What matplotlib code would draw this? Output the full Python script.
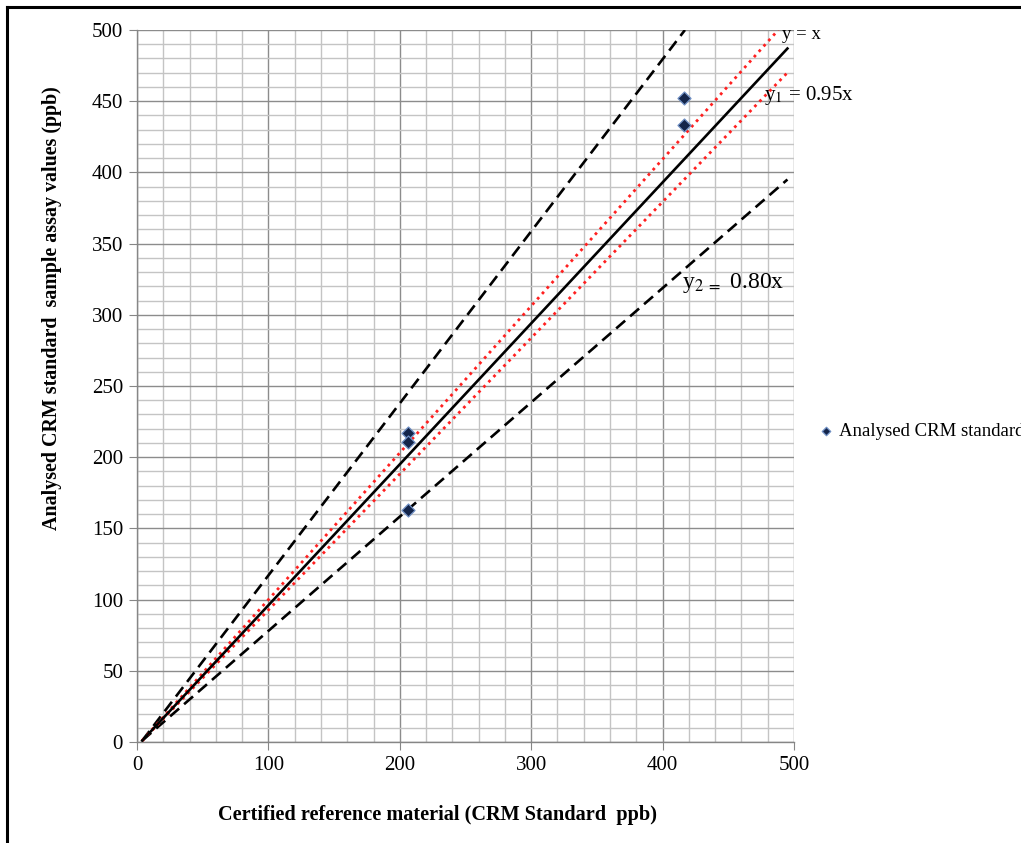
import matplotlib as mpl
import matplotlib.pyplot as plt
from matplotlib.lines import Line2D
from matplotlib.ticker import MultipleLocator

mpl.rcParams.update(
    {
        "font.family": ["Liberation Serif", "DejaVu Serif"],
        "mathtext.fontset": "stix",
        "font.size": 13,
    }
)

# analysed CRM standard samples (certified value, analysed value)
crm_x = [206, 206, 206, 416, 416]
crm_y = [217, 211, 163, 452, 433]

# reference lines, read as end points off the picture
line_yx_x = [4, 495]
line_yx_y = [1, 487]
red_hi_x = [4, 488]
red_hi_y = [1, 500]
red_lo_x = [4, 496]
red_lo_y = [1, 471]
dash_hi_x = [4, 417]
dash_hi_y = [1, 500]
dash_lo_x = [4, 495]
dash_lo_y = [1, 395]

W, H = 1021, 843
fig = plt.figure(figsize=(W / 100, H / 100), dpi=100)
ax = fig.add_axes([137 / W, 1 - 742 / H, (794 - 137) / W, (742 - 30) / H])

ax.set_xlim(0, 500)
ax.set_ylim(0, 500)
ax.xaxis.set_major_locator(MultipleLocator(100))
ax.xaxis.set_minor_locator(MultipleLocator(20))
ax.yaxis.set_major_locator(MultipleLocator(50))
ax.yaxis.set_minor_locator(MultipleLocator(10))
ax.grid(which="major", color="#8c8c8c", lw=1.0, zorder=0)
ax.grid(which="minor", color="#c4c4c4", lw=1.0, zorder=0)
ax.set_axisbelow(True)
for side in ["top", "right"]:
    ax.spines[side].set_visible(False)
for side in ["left", "bottom"]:
    ax.spines[side].set_color("#868686")
    ax.spines[side].set_linewidth(1.0)
ax.tick_params(which="major", direction="out", length=6, color="#868686", labelsize=15, pad=4)
ax.tick_params(which="minor", length=0)

ax.plot(dash_hi_x, dash_hi_y, color="black", lw=1.9, ls=(0, (4.5, 2.5)), zorder=3)
ax.plot(dash_lo_x, dash_lo_y, color="black", lw=1.9, ls=(0, (4.5, 2.5)), zorder=3)
ax.plot(red_hi_x, red_hi_y, color="#ff2020", lw=2.0, ls=(0, (1, 1.6)), zorder=3)
ax.plot(red_lo_x, red_lo_y, color="#ff2020", lw=2.0, ls=(0, (1, 1.6)), zorder=3)
ax.plot(line_yx_x, line_yx_y, color="black", lw=1.9, zorder=4)

ax.scatter(crm_x, crm_y, marker="D", s=44, color="#14254a", edgecolor="#7090c4",
           linewidth=0.9, zorder=5, label="Analysed CRM standard")

ax.text(491, 497, "y = x", fontsize=13.5, va="center", ha="left", clip_on=False, zorder=1)
ax.text(477, 454, r"y$_1$ = 0.95x", fontsize=15, va="center", ha="left", clip_on=False, zorder=1)
ax.text(415, 322, r"y$_{2\ =}$ 0.80x", fontsize=17, va="center", ha="left", clip_on=False, zorder=1)

fig.text(437 / W, 1 - 815 / H, "Certified reference material (CRM Standard  ppb)",
         fontsize=14.6, fontweight="bold", ha="center", va="center")
fig.text(52 / W, 1 - 308 / H, "Analysed CRM standard  sample assay values (ppb)",
         fontsize=14.4, fontweight="bold", ha="center", va="center", rotation=90)

ax.legend(loc="center left", bbox_to_anchor=(807 / W, 1 - 431 / H), bbox_transform=fig.transFigure,
          frameon=False, fontsize=13.5, handletextpad=-0.3, markerscale=0.65, borderaxespad=0, borderpad=0)

# page frame, only top and left edges are visible in the reference
fig.add_artist(Line2D([7 / W, 7 / W], [0, 1 - 7 / H], color="black", lw=2.2, transform=fig.transFigure))
fig.add_artist(Line2D([7 / W, 1], [1 - 7 / H, 1 - 7 / H], color="black", lw=2.2, transform=fig.transFigure))

fig.savefig("out.png", dpi=100)
